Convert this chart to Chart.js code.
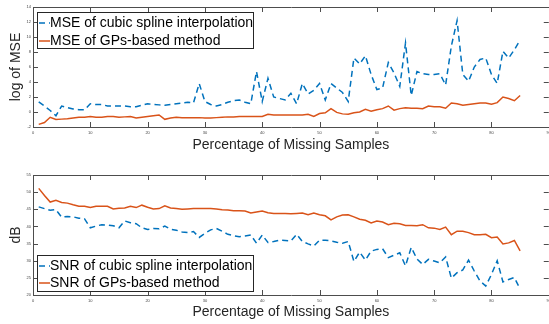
<!DOCTYPE html>
<html>
<head>
<meta charset="utf-8">
<script src="https://cdn.jsdelivr.net/npm/chart.js@4"></script>
<style>
html, body { margin: 0; padding: 0; background: #fff; overflow: hidden; width: 549px; height: 324px; }
.panel { position: absolute; left: 0; width: 554px; }
#topPanel { top: 0; height: 160px; }
#bottomPanel { top: 160px; height: 164px; }
</style>
</head>
<body>
<div class="panel" id="topPanel"><canvas id="mseChart"></canvas></div>
<div class="panel" id="bottomPanel"><canvas id="snrChart"></canvas></div>
<script>
const missingPct = [1, 2, 3, 4, 5, 6, 7, 8, 9, 10, 11, 12, 13, 14, 15, 16, 17, 18, 19, 20,
    21, 22, 23, 24, 25, 26, 27, 28, 29, 30, 31, 32, 33, 34, 35, 36, 37, 38, 39, 40,
    41, 42, 43, 44, 45, 46, 47, 48, 49, 50, 51, 52, 53, 54, 55, 56, 57, 58, 59, 60,
    61, 62, 63, 64, 65, 66, 67, 68, 69, 70, 71, 72, 73, 74, 75, 76, 77, 78, 79, 80,
    81, 82, 83, 84, 85];

const mseSpline = [1.35, 0.8, 0.2, -0.5, 0.8, 0.6, 0.4, 0.3, 0.3, 1.1,
    1.0, 1.0, 0.8, 0.8, 0.8, 0.8, 0.7, 0.7, 0.9, 1.1,
    1.0, 0.95, 0.9, 1.0, 1.1, 1.2, 1.3, 1.2, 3.8, 1.4,
    1.0, 0.8, 1.0, 1.3, 1.5, 1.6, 1.3, 1.1, 5.4, 1.4,
    4.5, 2.0, 1.8, 1.6, 2.5, 1.1, 3.8, 2.4, 2.9, 3.8,
    1.6, 3.8, 3.2, 2.6, 1.4, 7.2, 6.4, 7.5, 5.0, 3.0,
    3.2, 6.6, 5.2, 3.4, 9.2, 2.2, 5.4, 5.1, 5.0, 5.0,
    5.1, 3.6, 8.8, 12.2, 5.0, 4.1, 6.0, 7.0, 7.2, 5.0,
    3.8, 8.1, 7.2, 8.3, 9.6];

const mseGP = [-1.65, -1.4, -0.7, -1.0, -0.95, -0.9, -0.8, -0.7, -0.7, -0.6,
    -0.7, -0.7, -0.6, -0.6, -0.7, -0.65, -0.6, -0.8, -0.7, -0.6,
    -0.5, -0.4, -0.98, -0.8, -0.7, -0.75, -0.75, -0.75, -0.75, -0.8,
    -0.8, -0.75, -0.7, -0.65, -0.65, -0.6, -0.6, -0.6, -0.6, -0.6,
    -0.3, -0.4, -0.4, -0.4, -0.4, -0.4, -0.4, -0.3, -0.6, -0.2,
    -0.1, 0.45, -0.05, -0.25, -0.3, -0.1, 0.0, 0.35, 0.1, 0.3,
    0.45, 0.8, 0.25, 0.45, 0.55, 0.5, 0.5, 0.45, 0.8, 0.7,
    0.7, 0.5, 1.2, 1.1, 0.9, 1.0, 1.1, 1.2, 1.2, 1.05,
    1.25, 2.0, 1.8, 1.5, 2.2];

const snrSpline = [45.7, 45.2, 44.7, 44.9, 42.7, 42.9, 42.8, 42.4, 42.2, 39.6,
    40.1, 40.5, 40.4, 40.2, 39.6, 41.6, 41.1, 40.8, 39.6, 39.1,
    39.4, 39.3, 40.1, 39.2, 38.9, 38.4, 38.2, 38.5, 36.8, 38.0,
    39.0, 39.4, 38.6, 37.7, 37.3, 37.0, 37.2, 37.5, 35.1, 37.5,
    35.3, 35.6, 36.0, 35.9, 35.8, 37.7, 35.6, 34.9, 34.3, 36.0,
    36.0, 35.8, 35.4, 35.1, 35.6, 29.8, 32.5, 30.2, 32.8, 33.3,
    33.5, 30.9, 31.6, 32.3, 28.5, 33.9, 30.5, 28.9, 30.4, 29.9,
    29.4, 31.1, 24.9, 26.5, 27.3, 30.2, 27.0, 24.1, 22.6, 26.0,
    30.0, 23.8, 24.5, 25.1, 21.7];

const snrGP = [51.1, 49.0, 47.1, 47.6, 47.0, 46.8, 46.3, 45.9, 45.9, 45.5,
    45.9, 45.9, 45.9, 45.1, 45.3, 45.4, 45.9, 45.5, 46.2, 45.6,
    45.1, 45.2, 46.0, 45.4, 45.2, 45.0, 45.1, 45.2, 45.2, 45.2,
    45.2, 45.1, 44.9, 44.8, 44.6, 44.6, 44.5, 43.9, 44.2, 44.5,
    44.0, 43.8, 43.8, 43.8, 43.7, 43.8, 43.9, 43.4, 43.9, 43.4,
    43.1, 41.9, 42.8, 43.3, 43.4, 42.8, 42.1, 41.8, 41.0, 41.6,
    41.3, 40.5, 40.9, 40.8, 40.3, 40.3, 40.2, 40.5, 39.6, 39.5,
    39.1, 39.8, 37.6, 38.6, 38.6, 38.2, 37.6, 37.6, 37.7, 36.7,
    36.9, 34.9, 35.2, 35.9, 32.9];

const xTicks = [0, 10, 20, 30, 40, 50, 60, 70, 80, 90];
const mseTicks = [-2, 0, 2, 4, 6, 8, 10, 12, 14];
const snrTicks = [20, 25, 30, 35, 40, 45, 50, 55];

const BLUE = '#0072BD';
const RED = '#D95319';
const FONT = "'Liberation Sans', Arial, sans-serif";

// box round the axes, inward ticks on all four sides, legend in the corner
const matlabFrame = {
    id: 'matlabFrame',
    afterDraw(chart, args, opts) {
        const { ctx, chartArea: a } = chart;
        const { x, y } = chart.scales;
        ctx.save();
        ctx.strokeStyle = '#4d4d4d';
        ctx.lineWidth = 1;
        ctx.beginPath();
        ctx.rect(Math.round(a.left) + 0.5, Math.round(a.top) + 0.5,
            Math.round(a.right - a.left), Math.round(a.bottom - a.top));
        x.ticks.forEach(t => {
            const px = Math.round(x.getPixelForValue(t.value)) + 0.5;
            ctx.moveTo(px, a.bottom); ctx.lineTo(px, a.bottom - 5);
            ctx.moveTo(px, a.top); ctx.lineTo(px, a.top + 5);
        });
        y.ticks.forEach(t => {
            const py = Math.round(y.getPixelForValue(t.value)) + 0.5;
            ctx.moveTo(a.left, py); ctx.lineTo(a.left + 5, py);
            ctx.moveTo(a.right, py); ctx.lineTo(a.right - 5, py);
        });
        ctx.stroke();

        const L = opts;
        ctx.fillStyle = '#fff';
        ctx.fillRect(L.x, L.y, L.w, L.h);
        ctx.strokeStyle = '#262626';
        ctx.strokeRect(L.x + 0.5, L.y + 0.5, L.w, L.h);
        ctx.font = '14px ' + FONT;
        ctx.textBaseline = 'middle';
        chart.data.datasets.forEach((ds, i) => {
            const ry = L.rows[i];
            ctx.strokeStyle = ds.borderColor;
            ctx.lineWidth = ds.borderWidth;
            ctx.setLineDash(ds.borderDash || []);
            ctx.beginPath();
            ctx.moveTo(L.x + 2, ry);
            ctx.lineTo(L.x + 13, ry);
            ctx.stroke();
            ctx.setLineDash([]);
            ctx.fillStyle = '#000';
            ctx.fillText(ds.label, L.x + 13, ry + 0.5);
        });
        ctx.restore();
    }
};

function buildChart(canvasId, cfg) {
    return new Chart(document.getElementById(canvasId), {
        type: 'line',
        data: {
            datasets: [
                {
                    label: cfg.splineLabel,
                    data: missingPct.map((p, i) => ({ x: p, y: cfg.spline[i] })),
                    borderColor: BLUE,
                    borderWidth: 1.5,
                    borderDash: [6, 4],
                    pointRadius: 0,
                    tension: 0
                },
                {
                    label: cfg.gpLabel,
                    data: missingPct.map((p, i) => ({ x: p, y: cfg.gp[i] })),
                    borderColor: RED,
                    borderWidth: 1.5,
                    pointRadius: 0,
                    tension: 0
                }
            ]
        },
        options: {
            responsive: true,
            maintainAspectRatio: false,
            animation: false,
            layout: { padding: { top: cfg.padTop, left: 0, right: 3, bottom: 0 } },
            plugins: {
                legend: { display: false },
                tooltip: { enabled: false },
                matlabFrame: cfg.legendBox
            },
            scales: {
                x: {
                    type: 'linear',
                    min: 0,
                    max: 90,
                    afterBuildTicks: s => { s.ticks = xTicks.map(v => ({ value: v })); },
                    afterFit: s => { s.height = cfg.xHeight; },
                    grid: { display: false, drawTicks: false },
                    border: { display: false },
                    ticks: {
                        autoSkip: false, maxRotation: 0, padding: 3,
                        color: '#444', font: { size: 4, family: FONT }
                    },
                    title: {
                        display: true,
                        text: 'Percentage of Missing Samples',
                        color: '#262626',
                        font: { size: 14, family: FONT },
                        padding: { top: 0, bottom: cfg.xTitlePad }
                    }
                },
                y: {
                    min: cfg.yTicks[0],
                    max: cfg.yTicks[cfg.yTicks.length - 1],
                    afterBuildTicks: s => { s.ticks = cfg.yTicks.map(v => ({ value: v })); },
                    afterFit: s => { s.width = 33; },
                    grid: { display: false, drawTicks: false },
                    border: { display: false },
                    ticks: {
                        padding: 2, color: '#444', font: { size: 4, family: FONT }
                    },
                    title: {
                        display: true,
                        text: cfg.yTitle,
                        color: '#262626',
                        font: { size: 14, family: FONT },
                        padding: { top: 8, bottom: 0 }
                    }
                }
            }
        },
        plugins: [matlabFrame]
    });
}

buildChart('mseChart', {
    spline: mseSpline,
    gp: mseGP,
    splineLabel: 'MSE of cubic spline interpolation',
    gpLabel: 'MSE of GPs-based method',
    yTicks: mseTicks,
    yTitle: 'log of MSE',
    padTop: 7,
    xHeight: 33,
    xTitlePad: 6,
    legendBox: { x: 37, y: 12, w: 216, h: 36, rows: [23, 41] }
});

buildChart('snrChart', {
    spline: snrSpline,
    gp: snrGP,
    splineLabel: 'SNR of cubic spline interpolation',
    gpLabel: 'SNR of GPs-based method',
    yTicks: snrTicks,
    yTitle: 'dB',
    padTop: 15,
    xHeight: 29,
    xTitlePad: 3,
    legendBox: { x: 37, y: 95, w: 216, h: 36, rows: [106, 123] }
});
</script>
</body>
</html>
